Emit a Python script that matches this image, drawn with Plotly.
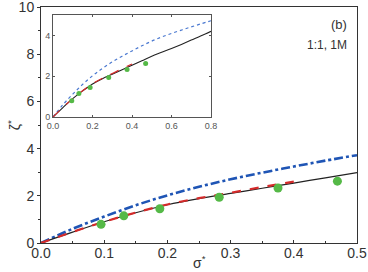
import plotly.graph_objects as go

# ---- data ----
sigma_main = [0.0, 0.05, 0.1, 0.15, 0.2, 0.25, 0.3, 0.35, 0.4, 0.45, 0.5]
sigma_ext = [0.0, 0.05, 0.1, 0.15, 0.2, 0.25, 0.3, 0.35, 0.4, 0.45, 0.5,
             0.55, 0.6, 0.65, 0.7, 0.75, 0.8]
zeta_black = [0.0, 0.46, 0.9, 1.28, 1.62, 1.88, 2.1, 2.32, 2.54, 2.76, 2.98,
              3.17, 3.36, 3.56, 3.77, 3.98, 4.2]
zeta_blue = [0.0, 0.6, 1.12, 1.6, 2.02, 2.38, 2.7, 2.98, 3.24, 3.49, 3.72,
             3.92, 4.1, 4.26, 4.42, 4.57, 4.72]
sigma_red = [0.0, 0.05, 0.1, 0.15, 0.2, 0.25, 0.3, 0.35, 0.4]
zeta_red = [0.0, 0.47, 0.9, 1.29, 1.63, 1.9, 2.13, 2.37, 2.6]
sigma_pts = [0.095, 0.131, 0.188, 0.282, 0.375, 0.469]
zeta_pts = [0.79, 1.15, 1.45, 1.94, 2.33, 2.62]

x_ticks_main = [0.0, 0.1, 0.2, 0.3, 0.4, 0.5]
x_ticklabels_main = ["0.0", "0.1", "0.2", "0.3", "0.4", "0.5"]
y_ticks_main = [0, 2, 4, 6, 8, 10]
x_ticks_inset = [0.0, 0.2, 0.4, 0.6, 0.8]
x_ticklabels_inset = ["0.0", "0.2", "0.4", "0.6", "0.8"]
y_ticks_inset = [0, 2, 4]

n_main = len(sigma_main)

fig = go.Figure()

# main plot
fig.add_trace(go.Scatter(x=sigma_ext[:n_main], y=zeta_blue[:n_main], mode="lines",
                         line=dict(color="#1f55b5", width=2.6, dash="dashdot", shape="spline"),
                         xaxis="x", yaxis="y", showlegend=False))
fig.add_trace(go.Scatter(x=sigma_ext[:n_main], y=zeta_black[:n_main], mode="lines",
                         line=dict(color="#222222", width=1.2, shape="spline"),
                         xaxis="x", yaxis="y", showlegend=False))
fig.add_trace(go.Scatter(x=sigma_red, y=zeta_red, mode="lines",
                         line=dict(color="#d42a2a", width=2.2, dash="dash", shape="spline"),
                         xaxis="x", yaxis="y", showlegend=False))
fig.add_trace(go.Scatter(x=sigma_pts, y=zeta_pts, mode="markers",
                         marker=dict(color="#55b947", size=9),
                         xaxis="x", yaxis="y", showlegend=False))

# inset
fig.add_trace(go.Scatter(x=sigma_ext, y=zeta_blue, mode="lines",
                         line=dict(color="#4a78d0", width=1.2, dash="dot", shape="spline"),
                         xaxis="x2", yaxis="y2", showlegend=False))
fig.add_trace(go.Scatter(x=sigma_ext, y=zeta_black, mode="lines",
                         line=dict(color="#222222", width=1.1, shape="spline"),
                         xaxis="x2", yaxis="y2", showlegend=False))
fig.add_trace(go.Scatter(x=sigma_red, y=zeta_red, mode="lines",
                         line=dict(color="#d42a2a", width=1.2, dash="dash", shape="spline"),
                         xaxis="x2", yaxis="y2", showlegend=False))
fig.add_trace(go.Scatter(x=sigma_pts, y=zeta_pts, mode="markers",
                         marker=dict(color="#55b947", size=5),
                         xaxis="x2", yaxis="y2", showlegend=False))

ff = "Liberation Sans, Arial, sans-serif"
font_main = dict(family=ff, size=14, color="#333333")
font_inset = dict(family=ff, size=9, color="#555555")

fig.update_layout(
    width=368, height=272,
    margin=dict(l=41, r=11, t=7, b=29, autoexpand=False),
    paper_bgcolor="white", plot_bgcolor="white",
    xaxis=dict(domain=[0, 1], range=[0, 0.5], tickvals=x_ticks_main,
               ticktext=x_ticklabels_main, tickfont=font_main,
               showgrid=False, zeroline=False, showline=True, mirror=True,
               linecolor="#333333", linewidth=1, ticks="inside", ticklen=3,
               tickcolor="#333333", ticklabelstandoff=-3,
               minor=dict(dtick=0.05, ticks="inside", ticklen=2, tickcolor="#333333")),
    yaxis=dict(domain=[0, 1], range=[0, 10], tickvals=y_ticks_main,
               tickfont=font_main, showgrid=False, zeroline=False,
               showline=True, mirror=True, linecolor="#333333", linewidth=1,
               ticks="outside", ticklen=3, tickcolor="#333333",
               ticklabeloverflow="allow",
               minor=dict(dtick=1, ticks="outside", ticklen=2, tickcolor="#333333")),
    xaxis2=dict(domain=[0.038, 0.538], anchor="y2", range=[0, 0.8],
                tickvals=x_ticks_inset, ticktext=x_ticklabels_inset,
                tickfont=font_inset, showgrid=False, zeroline=False,
                showline=True, mirror="ticks", linecolor="#555555", linewidth=1,
                ticks="inside", ticklen=2, tickcolor="#555555"),
    yaxis2=dict(domain=[0.534, 0.966], anchor="x2", range=[0, 5],
                tickvals=y_ticks_inset, tickfont=font_inset, showgrid=False,
                zeroline=False, showline=True, mirror="ticks", linecolor="#555555",
                linewidth=1, ticks="inside", ticklen=2, tickcolor="#555555"),
    annotations=[
        dict(text="(b)", xref="paper", yref="paper", x=0.975, y=0.924,
             xanchor="right", yanchor="middle", showarrow=False,
             font=dict(family=ff, size=13, color="#333333")),
        dict(text="1:1, 1M", xref="paper", yref="paper", x=0.975, y=0.839,
             xanchor="right", yanchor="middle", showarrow=False,
             font=dict(family=ff, size=12, color="#333333")),
        dict(text="σ<sup>*</sup>", xref="paper", yref="paper", x=0.5, y=-0.082,
             xanchor="center", yanchor="middle", showarrow=False,
             font=dict(family=ff, size=14, color="#333333")),
        dict(text="ζ<sup>*</sup>", xref="paper", yref="paper", x=-0.085, y=0.5,
             xanchor="center", yanchor="middle", showarrow=False, textangle=-90,
             font=dict(family=ff, size=14, color="#333333")),
    ],
)

fig.write_html(
    "out.html",
    config={"displayModeBar": False},
    post_script="document.body.style.margin='0';document.body.style.overflow='hidden';",
)
